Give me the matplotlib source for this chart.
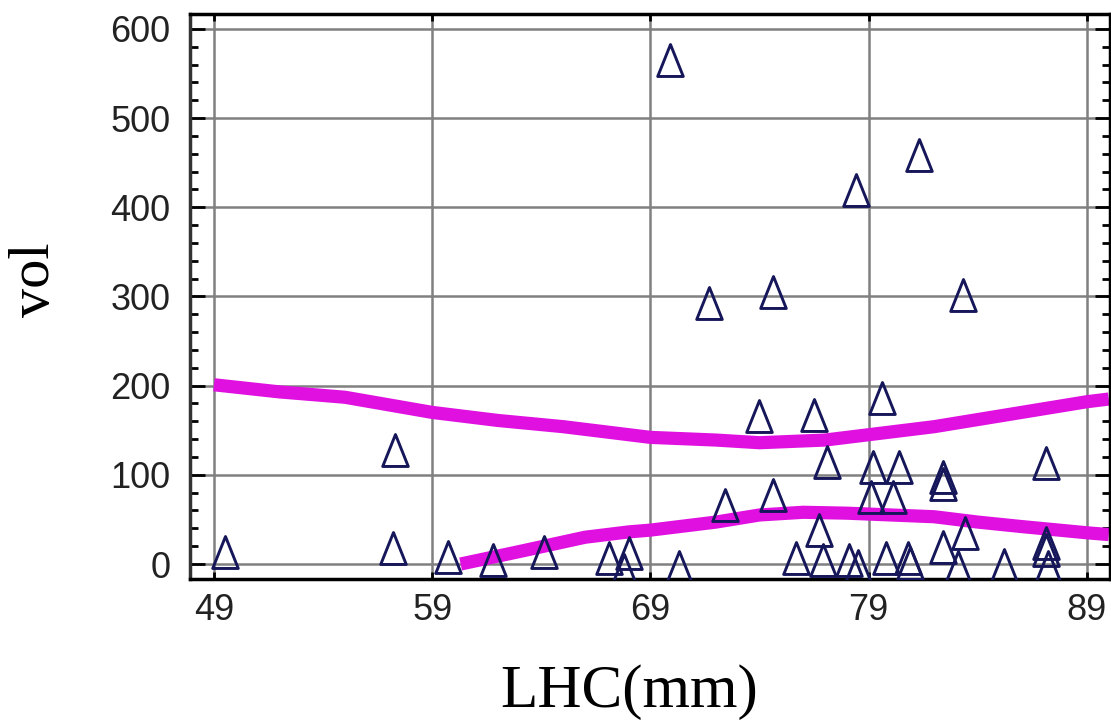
import matplotlib.pyplot as plt
from matplotlib.path import Path
from matplotlib.ticker import MultipleLocator

# measurements: LHC (mm) vs vol
lhc = [49.5, 57.2, 57.3, 59.7, 61.8, 64.1, 67.1, 67.8, 68.0, 69.9, 70.3,
       71.7, 72.4, 73.96, 74.6, 74.6, 75.65, 76.5, 76.7, 77.1, 76.9, 78.1,
       78.4, 78.5, 79.2, 79.1, 79.6, 79.8, 80.4, 80.1, 80.8, 80.9, 81.3,
       82.4, 82.4, 82.4, 83.3, 83.4, 83.1, 85.2, 87.1, 87.1, 87.1, 87.2]
vol = [13.5, 18, 128, 8, 4.5, 13.5, 7, -7, 12, 565, -3,
       293, 66, 166, 305, 77, 7, 167, 38, 114, 4.5, 4.5,
       419, -2, 109, 75, 186, 7, 109, 75, 7, 1, 459,
       19, 98, 90, 302, 35, -3, -1, 113, 24, 16, -3]

# prediction limits
upper_x = [49, 52, 55, 59, 62, 65, 69, 72, 74, 77, 79, 82, 85, 89, 90]
upper_y = [201, 193, 187, 170, 161, 154, 142, 139, 136, 139, 145, 154, 166, 182, 185]
lower_x = [60.3, 63, 66, 68, 69, 72, 74, 76, 78, 80, 82, 84, 86, 89, 90]
lower_y = [0, 14, 30, 36, 38, 47, 55, 58, 57, 55, 53, 47, 42, 35, 33]

x_ticks = [49, 59, 69, 79, 89]
y_ticks = [0, 100, 200, 300, 400, 500, 600]

tick_font = ['Liberation Sans', 'DejaVu Sans']
label_font = ['Liberation Serif', 'DejaVu Serif']

tri = Path([(0, 1), (-0.8, -1), (0.8, -1), (0, 1)],
           [Path.MOVETO, Path.LINETO, Path.LINETO, Path.CLOSEPOLY])

fig = plt.figure(figsize=(11.11, 7.27), dpi=100)
ax = fig.add_axes([0.171, 0.2036, 0.828, 0.7774])

ax.grid(True, color='#808080', linewidth=1.8, zorder=0)
ax.set_axisbelow(True)

ax.plot(upper_x, upper_y, color='#e010e0', linewidth=9.5, solid_capstyle='butt', zorder=2)
ax.plot(lower_x, lower_y, color='#e010e0', linewidth=9.5, solid_capstyle='butt', zorder=2)
ax.plot(lhc, vol, linestyle='none', marker=tri, markersize=23,
        markerfacecolor='none', markeredgecolor='#16165a', markeredgewidth=2.1, zorder=3)

ax.set_xlim(47.9, 90.05)
ax.set_ylim(-16.8, 617)
ax.set_xticks(x_ticks)
ax.set_yticks(y_ticks)
ax.yaxis.set_minor_locator(MultipleLocator(20))

ax.tick_params(axis='y', which='major', direction='in', length=11, width=2,
               left=True, right=True, pad=14)
ax.tick_params(axis='y', which='minor', direction='in', length=6, width=2,
               left=True, right=True)
ax.tick_params(axis='x', which='major', direction='in', length=5, width=2,
               top=True, bottom=True, pad=10)

for lbl in ax.get_xticklabels() + ax.get_yticklabels():
    lbl.set_family(tick_font)
    lbl.set_fontsize(26)
    lbl.set_color('#222222')

for side in ['top', 'bottom', 'right']:
    ax.spines[side].set_color('black')
    ax.spines[side].set_linewidth(2.5)
ax.spines['left'].set_color('#333333')
ax.spines['left'].set_linewidth(2.5)

ax.set_xlabel('LHC(mm)', family=label_font, fontsize=44)
ax.set_ylabel('vol', family=label_font, fontsize=42)
ax.xaxis.set_label_coords(0.477, -0.15)
ax.yaxis.set_label_coords(-0.14, 0.53)

fig.savefig('out.png', dpi=100)
